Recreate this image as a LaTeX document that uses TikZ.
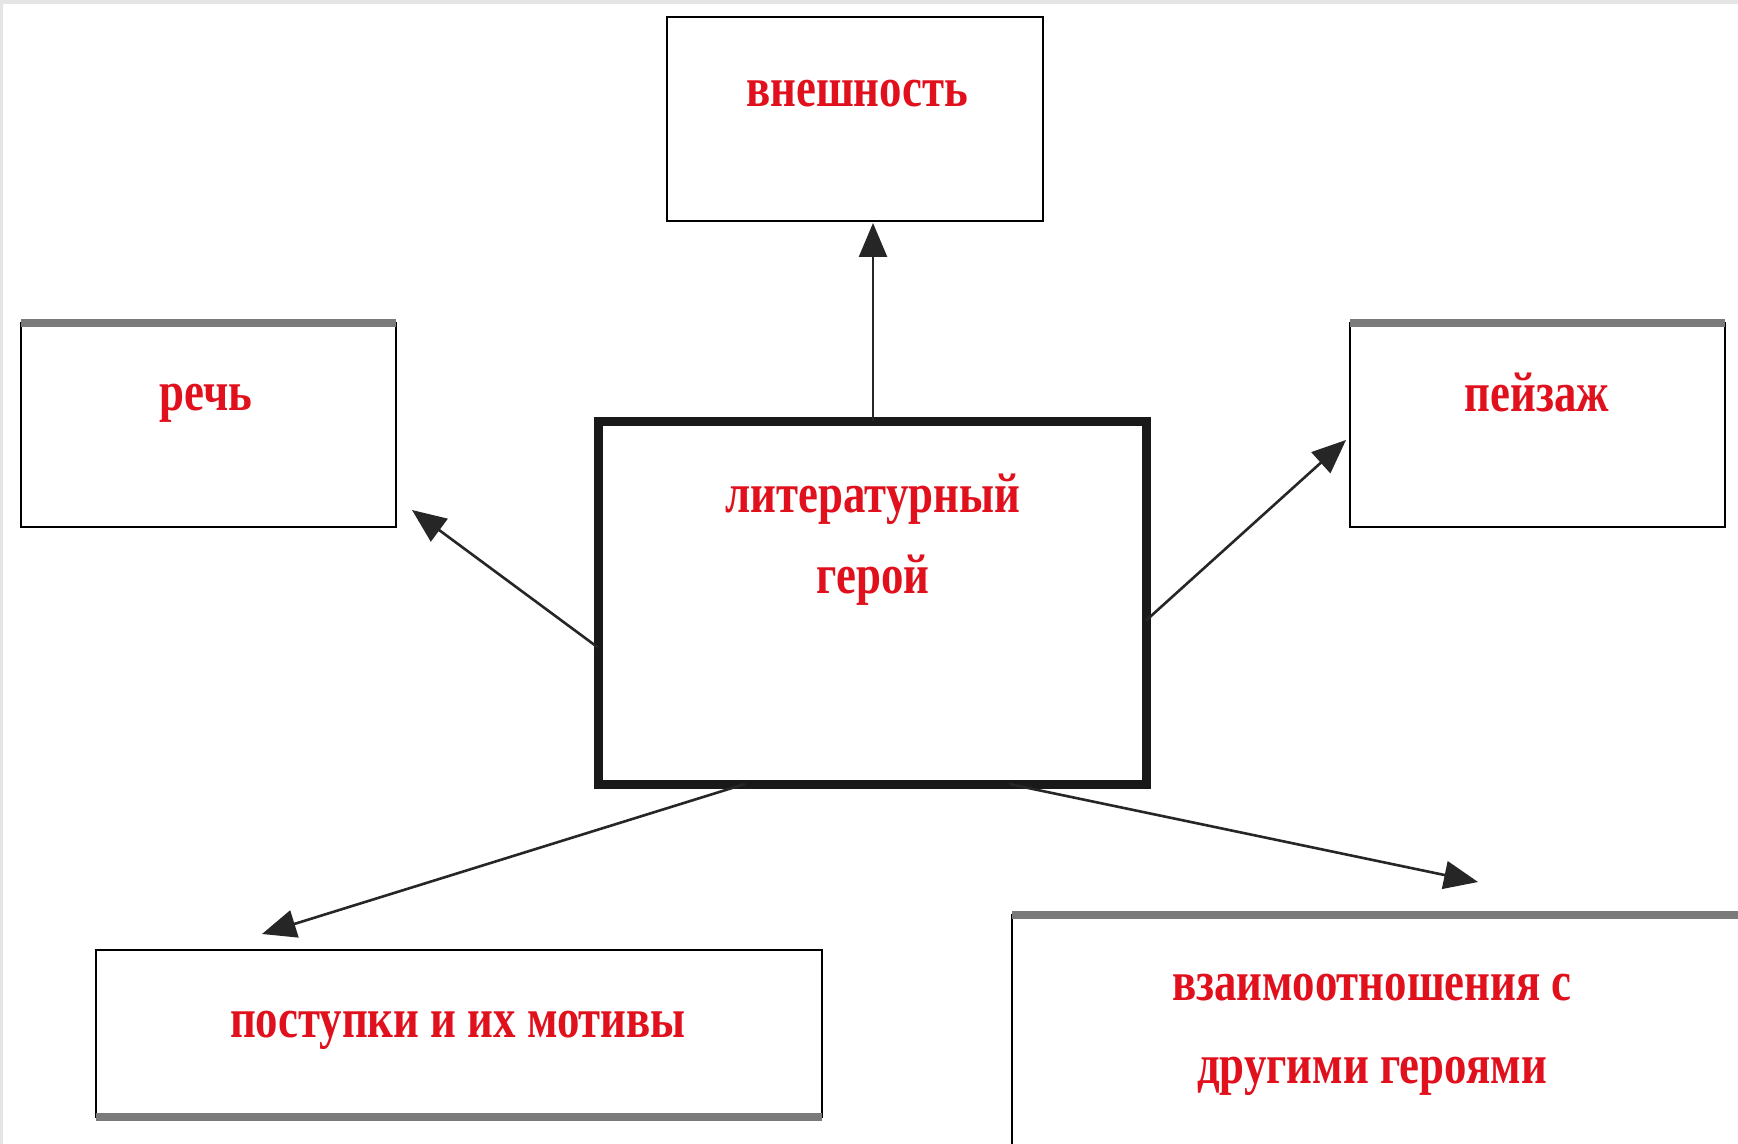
\documentclass[tikz,border=0pt]{standalone}
\usepackage{fontspec}
\newfontfamily\lblfont[FakeStretch=0.8]{Liberation Serif}
\usetikzlibrary{arrows.meta}
\definecolor{lblred}{HTML}{E0101C}
\definecolor{edgegray}{HTML}{7A7A7A}
\begin{document}
\begin{tikzpicture}[x=0.5pt,y=-0.5pt,
  box/.style={draw=black, line width=1.2pt, fill=white, inner sep=0pt, outer sep=0pt},
  herobox/.style={draw=black!90, line width=4.5pt, fill=white, inner sep=0pt, outer sep=0pt},
  lbl/.style={text=lblred, font=\lblfont\bfseries\fontsize{28}{34}\selectfont, inner sep=0pt, anchor=base},
  grayedge/.style={draw=edgegray, line width=4pt},
  conn/.style={draw=black!85, line width=1.3pt, -{Triangle[length=17pt,width=14pt]}}
]
\useasboundingbox (0,0) rectangle (1738,1144);
\fill[black!10] (0,0) rectangle (1738,1144);
\fill[white] (3,4) rectangle (1738,1144);

% boxes
\node[box, minimum width=188pt, minimum height=102pt] (vn) at (855,119) {};
\node[box, minimum width=187.5pt, minimum height=102pt] (rech) at (208.5,425) {};
\node[box, minimum width=187.5pt, minimum height=102pt] (peyz) at (1537.5,425) {};
\node[herobox, minimum width=274pt, minimum height=181.5pt] (hero) at (872,602.5) {};
\node[box, minimum width=363pt, minimum height=83.5pt] (post) at (459,1033.5) {};
\node[box, minimum width=374pt, minimum height=117.5pt] (vzaim) at (1386,1032.5) {};

% gray shadow edges
\draw[grayedge] (rech.north west) -- (rech.north east);
\draw[grayedge] (peyz.north west) -- (peyz.north east);
\draw[grayedge] (vzaim.north west) -- (vzaim.north east);
\draw[grayedge] (post.south west) -- (post.south east);

% labels
\node[lbl] (tvn) at (857,107) {внешность};
\node[lbl] (trech) at (206,410) {речь};
\node[lbl] (tpeyz) at (1537,411) {пейзаж};
\node[lbl] (thero1) at (873,512) {литературный};
\node[lbl] (thero2) at (873,593) {герой};
\node[lbl] (tpost) at (458,1037) {поступки и их мотивы};
\node[lbl] (tvz1) at (1372,1000) {взаимоотношения с};
\node[lbl] (tvz2) at (1372,1083) {другими героями};

% arrow tips
\coordinate (tipvn) at (873,223);
\coordinate (tiprech) at (412,510);
\coordinate (tippeyz) at (1346,440);
\coordinate (tippost) at (262,934);
\coordinate (tipvz) at (1478,882);

% connectors
\draw[conn] (hero.north -| tipvn) -- (tipvn);
\draw[conn] ([yshift=-22.5pt]hero.west) -- (tiprech);
\draw[conn] ([yshift=-9pt]hero.east) -- (tippeyz);
\draw[conn] ([xshift=-63.5pt]hero.south) -- (tippost);
\draw[conn] ([xshift=68.5pt]hero.south) -- (tipvz);
\end{tikzpicture}
\end{document}
